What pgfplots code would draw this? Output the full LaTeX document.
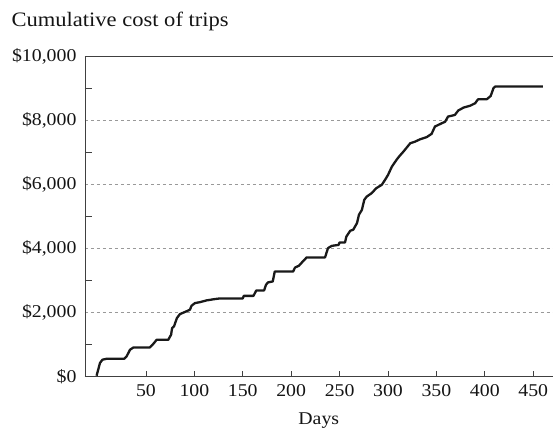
\documentclass[border=0pt]{standalone}
\usepackage{fontspec}
\setmainfont{Liberation Serif}[FakeStretch=1.1]
\usepackage{pgfplots}
\pgfplotsset{compat=1.18}
\begin{document}
\begin{tikzpicture}[font=\fontsize{18}{22}\selectfont]
\begin{axis}[
  scale only axis, width=468pt, height=321pt,
  xmin=-13, xmax=470, ymin=0, ymax=10000,
  scaled y ticks=false,
  axis x line*=box, axis y line*=left,
  axis line style={black!75, line width=0.8pt},
  xtick={50,100,...,450}, xtick pos=left,
  xtick style={black!75, line width=0.8pt},
  major tick length=6pt, minor tick length=7pt,
  ytick={0,2000,4000,6000,8000,10000},
  yticklabels={\$0,{\$2,000},{\$4,000},{\$6,000},{\$8,000},{\$10,000}},
  minor ytick={1000,3000,5000,7000,9000},
  ytick pos=left,
  major y tick style={draw=none},
  minor y tick style={black!75, line width=0.8pt},
  ymajorgrids,
  major grid style={gray!80, dashed, line width=0.6pt},
  /pgf/number format/assume math mode=true,
  ticklabel style={text=black!92},
  yticklabel style={xshift=-5pt},
  xticklabel style={yshift=-4pt},
  xlabel={Days},
  xlabel style={at={(axis description cs:0.5,0)}, anchor=base, yshift=-48pt, text=black!92},
  clip=false,
]
\addplot[black!90, line width=2.3pt, line join=round] coordinates {
(-1,30) (0.7,220) (2.5,425) (5,530) (9.4,560) (27.6,560) (30,630) (33.5,840) (37,910)
(54,910) (57.5,1020) (61,1150) (73,1150) (76,1310) (77,1515) (79,1570) (82,1830)
(85,1950) (90,2015) (95.5,2090) (97,2210) (100.6,2295) (105.8,2325) (112.7,2380)
(121,2420) (126,2440) (150,2440) (151,2520) (161,2520) (164,2690) (172,2690)
(174,2865) (176,2940) (181,2970) (183,3280) (202,3280) (204,3405) (208,3460)
(211,3560) (216,3720) (235,3720) (238,4010) (242,4080) (249,4110) (250,4185)
(255.6,4185) (257,4370) (261,4550) (264,4580) (268,4790) (270,5050) (273,5200)
(275.5,5515) (278,5615) (283,5720) (288,5880) (293.5,5980) (297,6140) (300,6290)
(304,6550) (309,6770) (312,6885) (316,7020) (323,7280) (328,7330) (333,7400)
(340,7470) (345,7570) (348.5,7800) (354,7880) (359,7950) (362,8110) (369,8160)
(372.6,8300) (378,8390) (385,8450) (390,8525) (393,8650) (402,8650) (406,8750)
(409,9000) (410.6,9045) (460,9045)
};
\end{axis}
\node[anchor=base west, text=black!92, font=\fontsize{20.5}{24}\selectfont] at ([xshift=-77pt,yshift=29pt]current axis.north west) {Cumulative cost of trips};
\path ([xshift=-85pt,yshift=-52pt]current axis.south west) rectangle ([xshift=468pt,yshift=377pt]current axis.south west);
\end{tikzpicture}
\end{document}
